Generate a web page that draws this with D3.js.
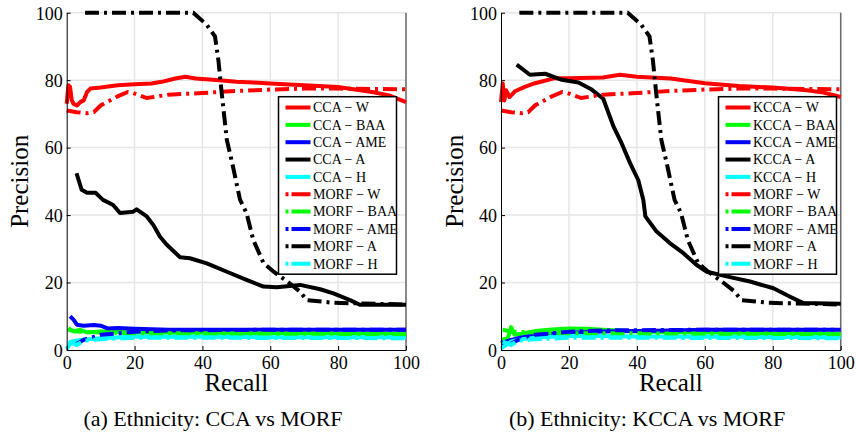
<!DOCTYPE html>
<html>
<head>
<meta charset="utf-8">
<script src="https://cdn.jsdelivr.net/npm/d3@7"></script>
<style>
  body { margin: 0; background: #fff; }
  svg { display: block; }
</style>
</head>
<body>
<svg id="chart" width="856" height="434"></svg>
<script>
// recall/precision points, [recall, precision]
const ccaW = [[0,73],[0.5,78.5],[1,78],[1.5,74],[2,73],[3,72.5],[4,73.5],[5,74],[6,76.5],[7,77.5],[10,77.8],[15,78.5],[20,78.8],[25,79],[28,79.5],[32,80.5],[35,81],[38,80.5],[45,80],[50,79.5],[55,79.3],[60,79],[70,78.5],[80,78],[90,76.5],[95,75.5],[100,73.5]];
const ccaBAA = [[0.5,6.5],[2,5.5],[4,6],[6,5.2],[10,5.5],[20,5.2],[40,5.1],[60,5],[80,4.9],[100,4.8]];
const ccaAME = [[1,10],[2,9],[3,7.5],[5,7.2],[8,7.4],[10,7.2],[12,6.4],[15,6.5],[20,6.3],[30,6],[60,6],[100,6]];
const ccaA = [[2.9,52.4],[4.4,47.5],[6,46.6],[8.5,46.6],[10.7,44.5],[13.7,43],[15.7,40.6],[19.6,41],[20.6,41.7],[23.6,39.6],[25.5,37.1],[27.5,33.6],[29.5,31.2],[33.4,27.5],[36.3,27.2],[41.3,25.7],[47.2,23.2],[53,20.8],[58,18.8],[61.9,18.6],[68.8,19.3],[74.7,18],[78.6,16.8],[83.5,14.8],[86.4,13.4],[100,13.4]];
const ccaH = [[0,0.3],[1.5,2.5],[4,3],[10,3.5],[20,4],[40,3.9],[60,3.8],[100,3.8]];

const kccaW = [[0,73.5],[0.5,79],[1,74],[1.5,77],[2.5,75],[4.1,76.7],[7,78],[10,79.1],[15.9,80.6],[20,80.6],[30,80.8],[35,81.6],[40,81],[50,80.5],[60,79.1],[70,78.3],[80,77.8],[90,77],[95,76.3],[100,75]];
const kccaBAA = [[0,3],[2,3.5],[3,6.8],[4,4.5],[6,4.8],[10,5.6],[15,6.1],[20,6.4],[25,6.3],[30,6],[40,5.5],[60,5.2],[80,5],[100,4.8]];
const kccaAME = [[0,2],[3,3],[6,3.7],[10,4.3],[15,4.8],[20,5.1],[30,5.5],[40,5.6],[50,5.8],[60,6],[80,6],[98,6]];
const kccaA = [[4.6,84.6],[8.5,81.6],[13,81.9],[17.9,80.1],[22.8,79.3],[26.7,77.2],[30.1,74.5],[33.1,66.3],[35.5,61.3],[38,55.4],[40.4,50.4],[41.9,44.5],[42.5,39.6],[45.8,35.1],[49.7,31.7],[53.7,28.7],[57.6,25.2],[60.6,23.2],[67.4,21.6],[73.3,20.3],[80.2,18.3],[85.1,15.8],[89,13.9],[100,13.7]];
const kccaH = [[0,0.5],[3,2.5],[6,3.2],[10,3.6],[20,4.2],[40,4],[70,3.9],[100,3.8]];

const morfW = [[0,71],[3,70.5],[6,70.2],[8,70.5],[10,72.5],[15,75.2],[18,76.5],[19.6,76.2],[23.6,74.7],[30,75.7],[40,76.2],[50,76.8],[60,77.2],[70,77.5],[80,77.5],[100,77.3]];
const morfBAA = [[0.5,6],[3,5.5],[10,5.2],[20,5],[50,4.9],[100,4.7]];
const morfAME = [[2.4,1.5],[5,3],[10,4.5],[20,5.4],[30,5.8],[60,6],[100,6]];
const morfA = [[5.4,100],[37.3,100],[41.3,96.4],[43.7,93],[44.7,86],[45.7,76],[47.2,62.3],[49,54.4],[51.1,44.5],[53,40.6],[55,32.6],[58,25.8],[61,23.2],[65,20.3],[68.8,17.3],[70.7,14.8],[78.6,14],[87,13.8],[100,13.5]];
const morfH = [[0.5,2.5],[3,1.5],[5,2.8],[10,3.2],[20,3.6],[50,3.6],[100,3.5]];

const xTicks = [0, 20, 40, 60, 80, 100];
const yTicks = [0, 20, 40, 60, 80, 100];

const colors = ["#ff0000", "#00ff00", "#0000ff", "#000000", "#00ffff"];
const groups = ["W", "BAA", "AME", "A", "H"];

const panels = [
  { left: 66.7, right: 406, method: "CCA", sets: [ccaW, ccaBAA, ccaAME, ccaA, ccaH],
    caption: "(a) Ethnicity: CCA vs MORF", captionX: 213, legendX: 278.5 },
  { left: 501, right: 840.7, method: "KCCA", sets: [kccaW, kccaBAA, kccaAME, kccaA, kccaH],
    caption: "(b) Ethnicity: KCCA vs MORF", captionX: 647, legendX: 718.5 }
];
const morfSets = [morfW, morfBAA, morfAME, morfA, morfH];

const svg = d3.select("#chart");
const font = "'Liberation Serif', 'Times New Roman', serif";
const dashDot = "14,5,3,5";

const y = d3.scaleLinear().domain([0, 100]).range([350, 12.7]);

for (const p of panels) {
  const x = d3.scaleLinear().domain([0, 100]).range([p.left, p.right]);
  const g = svg.append("g");

  // grid
  g.selectAll(".vgrid").data(xTicks.slice(1)).enter().append("line")
    .attr("x1", d => x(d)).attr("x2", d => x(d))
    .attr("y1", y(0)).attr("y2", y(100))
    .style("stroke", "#e6e6e6").style("stroke-width", 1.5);
  g.selectAll(".hgrid").data(yTicks.slice(1)).enter().append("line")
    .attr("x1", x(0)).attr("x2", x(100))
    .attr("y1", d => y(d)).attr("y2", d => y(d))
    .style("stroke", "#e6e6e6").style("stroke-width", 1.5);

  // right border darker
  g.append("line")
    .attr("x1", x(100)).attr("x2", x(100)).attr("y1", y(0)).attr("y2", y(100))
    .style("stroke", "#6a6a6a").style("stroke-width", 1.5);

  const line = d3.line().x(d => x(d[0])).y(d => y(d[1]));

  // method curves then MORF curves
  p.sets.forEach((s, i) => {
    g.append("path").attr("d", line(s))
      .style("fill", "none").style("stroke", colors[i])
      .style("stroke-width", 4).style("stroke-linejoin", "round");
  });
  morfSets.forEach((s, i) => {
    g.append("path").attr("d", line(s))
      .style("fill", "none").style("stroke", colors[i])
      .style("stroke-width", 4).style("stroke-dasharray", dashDot);
  });

  // axes
  const xAxis = g.append("g").attr("transform", "translate(0," + y(0) + ")")
    .call(d3.axisBottom(x).tickValues(xTicks).tickSize(-4).tickSizeOuter(0).tickPadding(5));
  const yAxis = g.append("g").attr("transform", "translate(" + x(0) + ",0)")
    .call(d3.axisLeft(y).tickValues(yTicks).tickSize(-4).tickSizeOuter(0).tickPadding(4));
  [xAxis, yAxis].forEach(a => {
    a.select(".domain").style("stroke", "#000").style("stroke-width", 1);
    a.selectAll(".tick line").style("stroke", "#000");
    a.selectAll("text").style("font-family", font).style("font-size", "18px").style("fill", "#000");
  });
  xAxis.selectAll("text").attr("y", 19).attr("dy", null);
  yAxis.selectAll("text").attr("dy", "0.35em");

  // axis titles
  g.append("text")
    .attr("x", (x(0) + x(100)) / 2).attr("y", 391)
    .text("Recall")
    .style("font-family", font).style("font-size", "25px")
    .style("text-anchor", "middle");
  g.append("text")
    .attr("transform", "translate(" + (p.left - 38.5) + "," + y(50) + ")rotate(-90)")
    .text("Precision")
    .style("font-family", font).style("font-size", "25px")
    .style("text-anchor", "middle");

  // caption
  g.append("text")
    .attr("x", p.captionX).attr("y", 426)
    .text(p.caption)
    .style("font-family", font).style("font-size", "22px")
    .style("text-anchor", "middle");

  // legend
  const names = groups.map(gr => p.method + " \u2212 " + gr)
    .concat(groups.map(gr => "MORF \u2212 " + gr));
  const lg = g.append("g").attr("transform", "translate(" + p.legendX + ",96.7)");
  lg.append("rect")
    .attr("width", 118).attr("height", 177.5)
    .style("fill", "#fff").style("stroke", "#000").style("stroke-width", 1.5);
  names.forEach((n, i) => {
    const ly = 10.8 + i * 17.35;
    lg.append("line")
      .attr("x1", 7).attr("x2", 32).attr("y1", ly).attr("y2", ly)
      .style("stroke", colors[i % 5]).style("stroke-width", 4)
      .style("stroke-dasharray", i >= 5 ? "3,3,19" : null);
    lg.append("text")
      .attr("x", 34.5).attr("y", ly).attr("dy", "0.35em")
      .text(n)
      .style("font-family", font).style("font-size", "14px");
  });
}
</script>
</body>
</html>
